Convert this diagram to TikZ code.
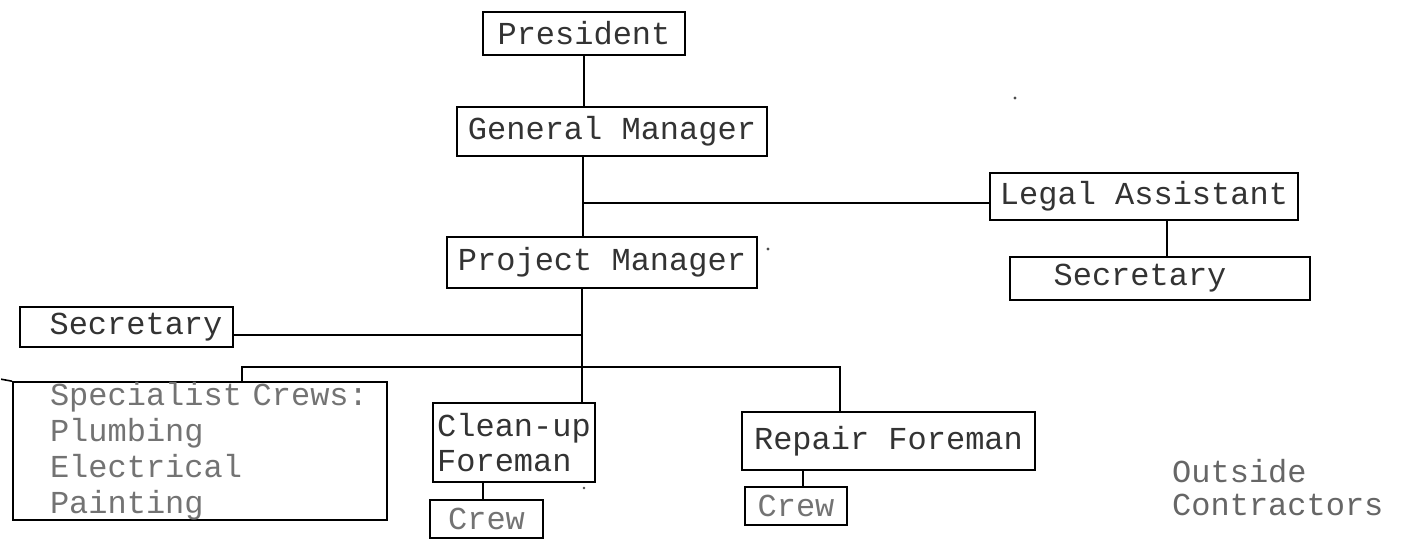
\documentclass[tikz,border=0pt]{standalone}
\usepackage{fontspec}
\setmonofont{Liberation Mono}
\begin{document}
\begin{tikzpicture}[x=1pt,y=-1pt,
  box/.style={draw=black, line width=1.8pt, inner sep=0pt, font=\ttfamily\fontsize{32}{35}\selectfont, text=black!80},
  faded/.style={text=black!55},
  wire/.style={draw=black, line width=1.6pt},
  speck/.style={fill=black!70}]
\useasboundingbox (0,0) rectangle (1404,539);
% boxes
\node[box, minimum width=202pt, minimum height=43pt] (pres) at (584,33.5) {President};
\node[box, minimum width=310pt, minimum height=49pt] (gm) at (612,131.5) {General Manager};
\node[box, minimum width=310pt, minimum height=51pt] (pm) at (602,262.5) {Project Manager};
\node[box, minimum width=308pt, minimum height=47pt] (legal) at (1144,196.5) {Legal Assistant};
\node[box, minimum width=300pt, minimum height=43pt] (sec2) at (1160,278.5) {Secretary\hspace*{40pt}};
\node[box, minimum width=213pt, minimum height=40pt] (sec1) at (126.5,327) {\hspace*{19pt}Secretary};
\node[box, faded, minimum width=374pt, minimum height=136pt, align=left, text width=360pt, inner xsep=7pt,
  font=\ttfamily\fontsize{32}{36}\selectfont] (spec) at (200,451)
  {\hspace*{30pt}Specialist Crews:\\\hspace*{30pt}Plumbing\\\hspace*{30pt}Electrical\\\hspace*{30pt}Painting};
\node[box, minimum width=162pt, minimum height=79pt, align=left] (clean) at (514,442.5) {Clean-up\\Foreman};
\node[box, faded, minimum width=113pt, minimum height=38pt] (crew1) at (486.5,519) {Crew};
\node[box, minimum width=293pt, minimum height=58pt] (repair) at (888.5,441) {Repair Foreman};
\node[box, faded, minimum width=102pt, minimum height=38pt] (crew2) at (796,506) {Crew};
\node[font=\ttfamily\fontsize{32}{33}\selectfont, text=black!60, align=left, anchor=west, inner sep=0pt] (outside) at (1172,488) {Outside\\Contractors};
% junctions
\coordinate (j1) at (583,203);
\coordinate (j3) at (582,335);
\coordinate (j4) at (582,367);
\coordinate (bl) at (242,367);
\coordinate (br) at (840,367);
% connectors
\draw[wire] (pres.south) -- (pres.south |- gm.north);
\draw[wire] (j1 |- gm.south) -- (j1 |- pm.north);
\draw[wire] (j1) -- (legal.west |- j1);
\draw[wire] ([xshift=23pt]legal.south) -- ([xshift=23pt]legal.south |- sec2.north);
\draw[wire] (pm.south -| j4) -- (j4);
\draw[wire] (sec1.east |- j3) -- (j3);
\draw[wire] (bl |- spec.north) -- (bl) -- (br) -- (br |- repair.north);
\draw[wire] (j4) -- (j4 |- clean.north);
\draw[wire] ([xshift=-31pt]clean.south) -- ([xshift=-31pt]clean.south |- crew1.north);
\draw[wire] ([xshift=-85.5pt]repair.south) -- ([xshift=-85.5pt]repair.south |- crew2.north);
\draw[wire] (spec.north west) -- ++(-11,-2);
% specks
\fill[speck] (768,249) circle (1.6pt);
\fill[speck] (584,488) circle (1.4pt);
\fill[speck] (1015,98) circle (1.6pt);
\end{tikzpicture}
\end{document}
